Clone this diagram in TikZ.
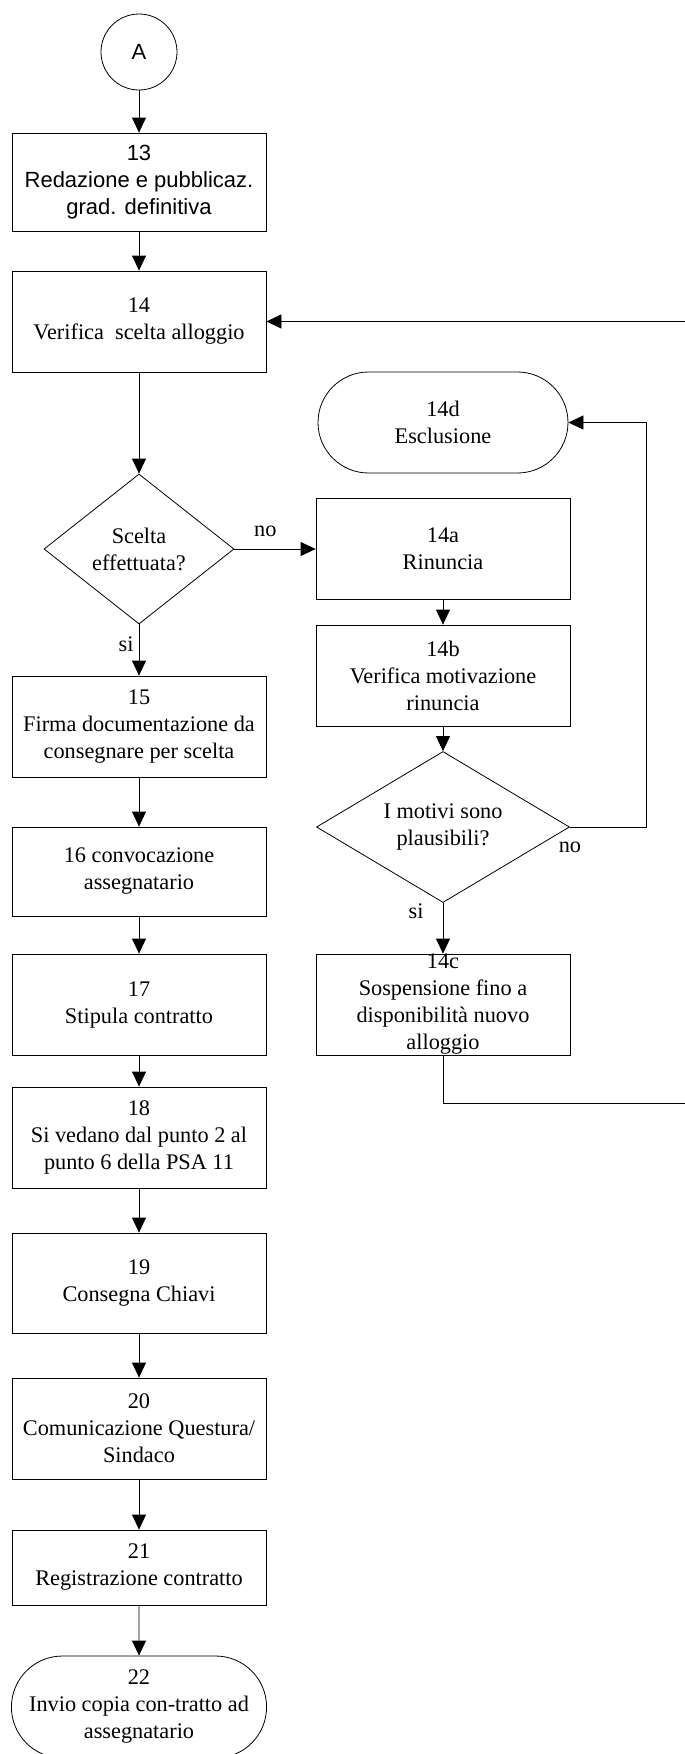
\documentclass[tikz,border=0pt]{standalone}
\usepackage{fontspec}
\setmainfont{Liberation Serif}
\newfontfamily\arialfont{Liberation Sans}
\usetikzlibrary{arrows.meta,shapes.geometric,shapes.misc}

\begin{document}
\begin{tikzpicture}[x=1pt,y=-1pt,line width=0.8pt,
    every node/.style={font=\fontsize{22.3}{27}\selectfont},
    sansfont/.style={font=\arialfont\fontsize{22}{26.7}\selectfont},
    box/.style={draw,rectangle,align=center,minimum width=254pt,minimum height=101pt,inner sep=2pt},
    term/.style={draw,rounded rectangle,align=center,minimum width=254pt,minimum height=101pt,inner sep=2pt},
    decision/.style={draw,diamond,align=center,inner sep=0pt},
    lbl/.style={inner sep=0pt},
    arr/.style={-{Triangle[length=15pt,width=14pt]}}]
    \useasboundingbox (0,0) rectangle (685,1754);

    \node[draw,circle,minimum size=76pt,sansfont] (A) at (139,52) {A};
    \node[box,sansfont,minimum height=98pt] (n13) at (139,182) {13\\Redazione e pubblicaz.\\grad. definitiva};
    \node[box] (n14) at (139,321.5) {14\\Verifica~~scelta alloggio};
    \node[decision,aspect=1.27,minimum width=190pt,minimum height=150pt] (d1) at (139,549) {Scelta\\effettuata?};
    \node[box] (n15) at (139,726.5) {15\\Firma documentazione da\\consegnare per scelta};
    \node[box,minimum height=89pt] (n16) at (139,871.5) {16 convocazione\\assegnatario};
    \node[box] (n17) at (139,1004.5) {17\\Stipula contratto};
    \node[box] (n18) at (139,1137.5) {18\\Si vedano dal punto 2 al\\punto 6 della PSA 11};
    \node[box,minimum height=100pt] (n19) at (139,1283) {19\\Consegna Chiavi};
    \node[box] (n20) at (139,1428.5) {20\\Comunicazione Questura/\\Sindaco};
    \node[box,minimum height=75pt] (n21) at (139,1567.5) {21\\Registrazione contratto};
    \node[term,minimum height=102pt] (n22) at (139,1707) {22\\Invio copia con-tratto ad\\assegnatario};

    \node[term] (n14d) at (443,422.5) {14d\\Esclusione};
    \node[box] (n14a) at (443,549) {14a\\Rinuncia};
    \node[box] (n14b) at (443,675.5) {14b\\Verifica motivazione\\rinuncia};
    \node[decision,aspect=1.68,minimum width=253pt,minimum height=151pt] (d2) at (443,827) {I motivi sono\\plausibili?};
    \node[box,inner sep=0pt] (n14c) at (443,1004.5) {14c\\Sospensione fino a\\disponibilità nuovo\\alloggio};

    \coordinate (rt) at (646,827);
    \coordinate (edge) at (686,1103);

    \draw[arr] (A) to (n13); \draw[arr] (n13) to (n14); \draw[arr] (n14) to (d1);
    \draw[arr] (d1) to node[lbl,left=5pt,pos=0.38] {si} (n15);
    \draw[arr] (d1) to node[lbl,above=12pt,pos=0.38] {no} (n14a);
    \draw[arr] (n15) to (n16); \draw[arr] (n16) to (n17); \draw[arr] (n17) to (n18);
    \draw[arr] (n18) to (n19); \draw[arr] (n19) to (n20); \draw[arr] (n20) to (n21); \draw[arr] (n21) to (n22);
    \draw[arr] (n14a) to (n14b); \draw[arr] (n14b) to (d2);
    \draw[arr] (d2) to node[lbl,left=19pt,pos=0.16] {si} (n14c);
    \draw[arr] (d2.east) -- node[lbl,below=15pt,pos=0] {no} (rt) |- (n14d.east);
    \draw[arr] (n14c) |- (edge) |- (n14.east);
\end{tikzpicture}
\end{document}
